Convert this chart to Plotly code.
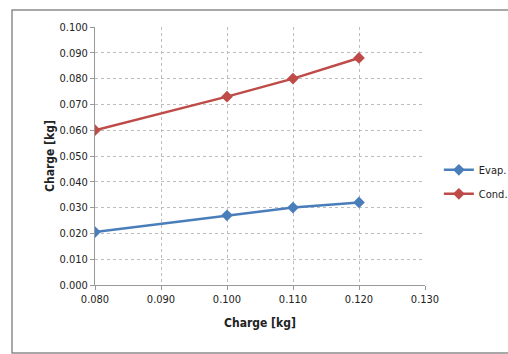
import plotly.graph_objects as go

# Refrigerant charge data
charge_total = [0.080, 0.100, 0.110, 0.120]
evap_charge = [0.0205, 0.027, 0.030, 0.032]
cond_charge = [0.060, 0.073, 0.080, 0.088]

FONT = "DejaVu Sans Condensed, Liberation Sans Narrow, Open Sans, sans-serif"

fig = go.Figure()
fig.add_trace(go.Scatter(
    x=charge_total, y=evap_charge, name="Evap.", mode="lines+markers",
    line=dict(color="#4a7ebb", width=2.5),
    marker=dict(symbol="diamond", size=9, color="#4a7ebb"),
    legendgroup="a",
))
fig.add_trace(go.Scatter(
    x=charge_total, y=cond_charge, name="Cond.", mode="lines+markers",
    line=dict(color="#be4b48", width=2.5),
    marker=dict(symbol="diamond", size=9, color="#be4b48"),
    legendgroup="b",
))

axis_common = dict(
    showgrid=True, gridcolor="#bdbdbd", griddash="dot", gridwidth=1,
    showline=True, linecolor="#999999", linewidth=1,
    ticks="outside", ticklen=4, tickcolor="#999999",
    tickfont=dict(family=FONT, size=11, color="#222"),
    tickformat=".3f", zeroline=False,
)

fig.update_layout(
    width=508, height=354,
    # fixed plot area; the legend sits in the right margin without resizing it
    margin=dict(l=95, r=83, t=27, b=69, autoexpand=False),
    paper_bgcolor="white", plot_bgcolor="white",
    font=dict(family=FONT, color="#222"),
    xaxis=dict(range=[0.08, 0.13], dtick=0.01, tick0=0.08,
               title=dict(text="<b>Charge [kg]</b>", font=dict(family=FONT, size=12), standoff=13),
               **axis_common),
    yaxis=dict(range=[0, 0.1], dtick=0.01, tick0=0,
               title=dict(text="<b>Charge [kg]</b>", font=dict(family=FONT, size=12), standoff=2),
               **axis_common),
    legend=dict(x=1.042, y=0.40, xanchor="left", yanchor="middle",
                font=dict(family=FONT, size=11, color="#222"),
                traceorder="grouped", tracegroupgap=5,
                bgcolor="rgba(0,0,0,0)"),
    shapes=[dict(type="rect", xref="paper", yref="paper",
                 x0=-0.2515, x1=1.26, y0=-0.2636, y1=1.066,
                 line=dict(color="#8c8c8c", width=1.5))],
)

fig.write_html("out.html")
